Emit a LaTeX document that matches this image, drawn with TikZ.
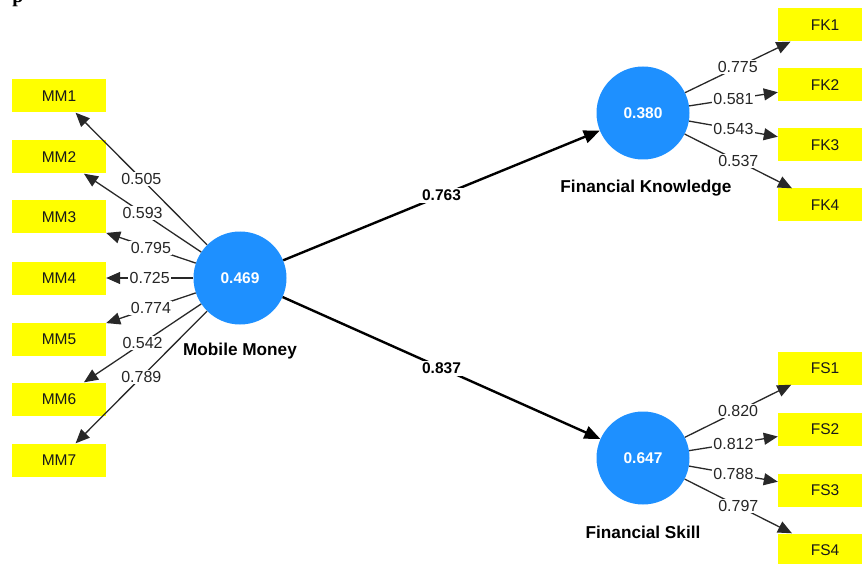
\documentclass[tikz,border=0pt]{standalone}
\usepackage{fontspec}
\setmainfont{Liberation Serif}
\setsansfont{Liberation Sans}
\usetikzlibrary{arrows.meta}
\definecolor{plsblue}{RGB}{30,144,255}
\definecolor{plsyellow}{RGB}{255,255,0}
\definecolor{linegray}{RGB}{40,40,40}

\begin{document}
\begin{tikzpicture}[x=1pt,y=-1pt,
	ind/.style={fill=plsyellow,minimum width=94pt,minimum height=33pt,inner sep=0pt,text=black!90,font=\sffamily\fontsize{15.5}{16}\selectfont},
	lv/.style={circle,fill=plsblue,minimum size=93pt,inner sep=0pt,text=white,font=\sffamily\bfseries\fontsize{15.5}{16}\selectfont},
	lvname/.style={font=\sffamily\bfseries\fontsize{17.2}{18}\selectfont},
	load/.style={draw=linegray,line width=1.3pt,-{Triangle[length=14pt,width=12pt]}},
	struct/.style={draw=black,line width=2.4pt,-{Triangle[length=16pt,width=13pt]}},
	coef/.style={fill=white,inner sep=1.5pt,text=black!85,font=\sffamily\fontsize{16}{17}\selectfont},
	pcoef/.style={fill=white,inner sep=2pt,font=\sffamily\bfseries\fontsize{15.5}{16}\selectfont}]
	\useasboundingbox (0,0) rectangle (862,564);
	\node[anchor=base,font=\bfseries\fontsize{20}{20}\selectfont] (p) at (18,3) {p};
	\node[lv] (mm) at (240,278) {0.469};
	\node[lv] (fk) at (643,113) {0.380};
	\node[lv] (fs) at (643,458) {0.647};
	\node[lvname] (mmname) at (240,351) {Mobile Money};
	\node[lvname] (fkname) at (646,188) {Financial Knowledge};
	\node[lvname] (fsname) at (643,532) {Financial Skill};
	\node[ind] (mm1) at (59,96) {MM1};
	\node[ind] (mm2) at (59,157) {MM2};
	\node[ind] (mm3) at (59,217) {MM3};
	\node[ind] (mm4) at (59,278) {MM4};
	\node[ind] (mm5) at (59,339) {MM5};
	\node[ind] (mm6) at (59,399) {MM6};
	\node[ind] (mm7) at (59,460) {MM7};
	\node[ind] (fk1) at (825,25) {FK1};
	\node[ind] (fk2) at (825,85) {FK2};
	\node[ind] (fk3) at (825,145) {FK3};
	\node[ind] (fk4) at (825,205) {FK4};
	\node[ind] (fs1) at (825,368) {FS1};
	\node[ind] (fs2) at (825,429) {FS2};
	\node[ind] (fs3) at (825,490) {FS3};
	\node[ind] (fs4) at (825,550) {FS4};
	\draw[load] (mm) -- node[coef] (c1) {0.505} (mm1);
	\draw[load] (mm) -- node[coef] (c2) {0.593} (mm2);
	\draw[load] (mm) -- node[coef] (c3) {0.795} (mm3);
	\draw[load] (mm) -- node[coef] (c4) {0.725} (mm4);
	\draw[load] (mm) -- node[coef] (c5) {0.774} (mm5);
	\draw[load] (mm) -- node[coef] (c6) {0.542} (mm6);
	\draw[load] (mm) -- node[coef] (c7) {0.789} (mm7);
	\draw[load] (fk) -- node[coef] (k1) {0.775} (fk1);
	\draw[load] (fk) -- node[coef] (k2) {0.581} (fk2);
	\draw[load] (fk) -- node[coef] (k3) {0.543} (fk3);
	\draw[load] (fk) -- node[coef] (k4) {0.537} (fk4);
	\draw[load] (fs) -- node[coef] (s1) {0.820} (fs1);
	\draw[load] (fs) -- node[coef] (s2) {0.812} (fs2);
	\draw[load] (fs) -- node[coef] (s3) {0.788} (fs3);
	\draw[load] (fs) -- node[coef] (s4) {0.797} (fs4);
	\draw[struct] (mm) -- node[pcoef] (b1) {0.763} (fk);
	\draw[struct] (mm) -- node[pcoef] (b2) {0.837} (fs);
\end{tikzpicture}
\end{document}
